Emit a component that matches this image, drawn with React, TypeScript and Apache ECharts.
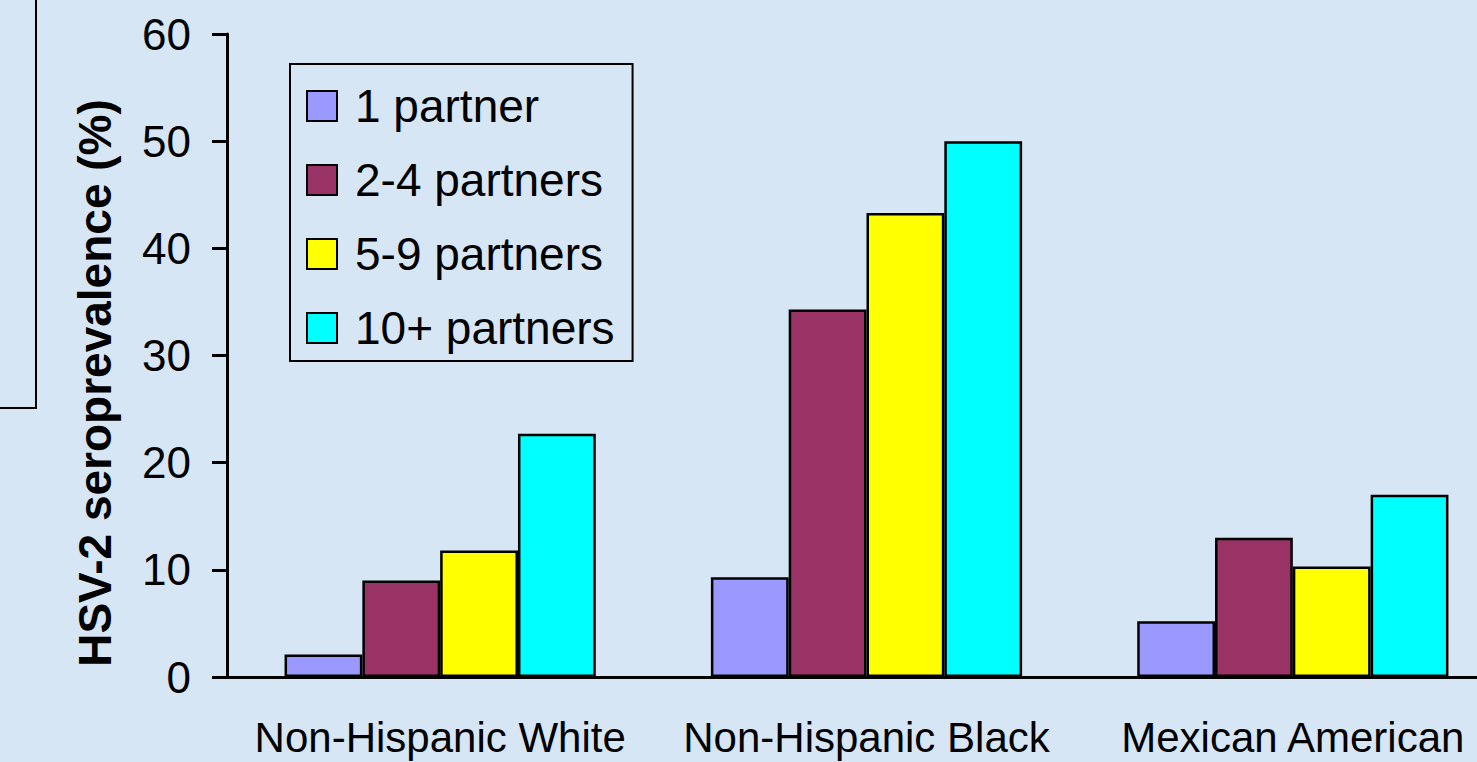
import React, { useEffect, useRef } from "react";
import * as echarts from "echarts";

const categories = ["Non-Hispanic White", "Non-Hispanic Black", "Mexican American"];
const seriesNames = ["1 partner", "2-4 partners", "5-9 partners", "10+ partners"];
const onePartner = [2.1, 9.3, 5.2];
const twoToFour = [9.0, 34.3, 13.0];
const fiveToNine = [11.8, 43.3, 10.3];
const tenPlus = [22.7, 50.0, 17.0];
const seriesValues = [onePartner, twoToFour, fiveToNine, tenPlus];
const seriesColors = ["#9999FF", "#993366", "#FFFF00", "#00FFFF"];
const yTicks = { min: 0, max: 60, interval: 10 };
const yTitle = "HSV-2 seroprevalence (%)";

const FONT = "'Liberation Sans', Arial, Helvetica, sans-serif";

export default function App() {
  const ref = useRef<HTMLDivElement>(null);
  useEffect(() => {
    document.body.style.margin = "0";
    document.body.style.overflow = "hidden";
    document.documentElement.style.overflow = "hidden";
    if (!ref.current) return;
    const chart = echarts.init(ref.current, null, { renderer: "svg" });
    chart.setOption({
      animation: false,
      backgroundColor: "#d7e6f5",
      textStyle: { fontFamily: FONT },
      grid: { left: 227, top: 34, right: 0, bottom: 85, containLabel: false },
      legend: {
        orient: "vertical",
        left: 290,
        top: 64,
        data: seriesNames,
        icon: "rect",
        itemWidth: 30,
        itemHeight: 30,
        itemGap: 28,
        padding: [19, 18, 10, 16],
        borderColor: "#000",
        borderWidth: 2,
        backgroundColor: "transparent",
        itemStyle: { borderColor: "#000", borderWidth: 2 },
        textStyle: { fontSize: 46, color: "#000", fontFamily: FONT, lineHeight: 46, padding: [0, 0, 0, 13] },
      },
      xAxis: {
        type: "category",
        data: categories,
        axisLine: { show: true, lineStyle: { color: "#000", width: 3 } },
        axisTick: { show: false },
        axisLabel: { fontSize: 42, color: "#000", margin: 39, fontFamily: FONT, interval: 0 },
        splitLine: { show: false },
      },
      yAxis: {
        type: "value",
        min: yTicks.min,
        max: yTicks.max,
        interval: yTicks.interval,
        axisLine: { show: true, lineStyle: { color: "#000", width: 3 } },
        axisTick: { show: true, length: 15, lineStyle: { color: "#000", width: 3 } },
        axisLabel: { fontSize: 44, color: "#000", margin: 36, fontFamily: FONT },
        splitLine: { show: false },
      },
      graphic: [
        {
          type: "polyline",
          shape: { points: [[36, 0], [36, 408], [0, 408]] },
          style: { stroke: "#000", lineWidth: 2, fill: "none" },
          z: 10,
        },
        {
          type: "text",
          x: 95,
          y: 383,
          rotation: Math.PI / 2,
          style: {
            text: yTitle,
            fontSize: 46,
            fontWeight: "bold",
            fontFamily: FONT,
            fill: "#000",
            align: "center",
            verticalAlign: "middle",
          },
          z: 10,
        },
      ],
      series: seriesNames.map((name, i) => ({
        name,
        type: "bar",
        data: seriesValues[i],
        barGap: "0%",
        barCategoryGap: "27%",
        itemStyle: { color: seriesColors[i], borderColor: "#000", borderWidth: 2.5 },
      })),
    });
    return () => chart.dispose();
  }, []);
  return <div ref={ref} style={{ width: 1506, height: 762 }} />;
}
